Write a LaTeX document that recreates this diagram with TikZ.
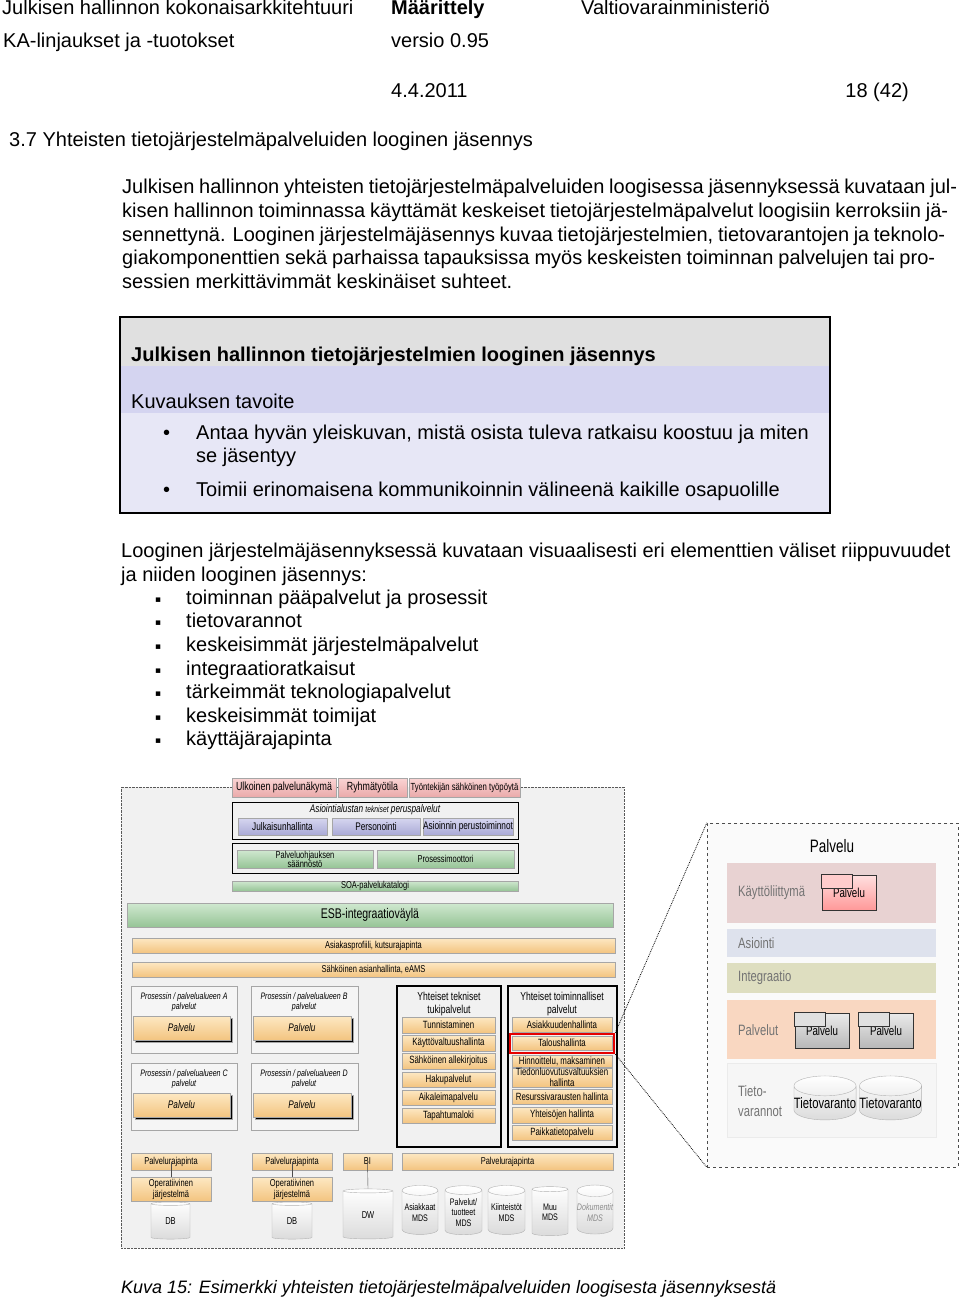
\documentclass[tikz,border=0pt]{standalone}
\usepackage{fontspec}
\setmainfont{Liberation Sans}
\newfontfamily\dgfont[FakeStretch=0.75]{Liberation Sans}
\newfontfamily\symfont{DejaVu Sans}
\usetikzlibrary{shapes.geometric, shadows, positioning, calc}

\definecolor{hdrgray}{RGB}{224,224,224}
\definecolor{hdrlav}{RGB}{212,212,240}
\definecolor{bodylav}{RGB}{231,231,246}
\definecolor{diaggray}{RGB}{241,241,241}
\definecolor{tabtop}{RGB}{250,212,212}
\definecolor{tabbot}{RGB}{234,170,170}
\definecolor{lavtop}{RGB}{214,214,240}
\definecolor{lavbot}{RGB}{170,170,214}
\definecolor{greentop}{RGB}{208,232,208}
\definecolor{greenbot}{RGB}{150,196,150}
\definecolor{peachtop}{RGB}{253,232,195}
\definecolor{peachbot}{RGB}{243,196,128}
\definecolor{layerui}{RGB}{232,210,210}
\definecolor{layeras}{RGB}{222,226,237}
\definecolor{layerint}{RGB}{222,222,192}
\definecolor{layerpalv}{RGB}{249,215,193}
\definecolor{layertieto}{RGB}{246,246,246}

\newcommand{\bodyfont}{\fontsize{20}{23.5}\selectfont}
\newcommand{\dgsize}[1]{\dgfont\fontsize{#1}{#1}\selectfont}

\begin{document}
\begin{tikzpicture}[x=1pt, y=-1pt,
  bodytxt/.style={anchor=base west, inner sep=0pt, font=\bodyfont},
  corners/.style n args={4}{at={({(#1+#3)/2},{(#2+#4)/2})}, minimum width={(#3-#1)*1pt}, minimum height={(#4-#2)*1pt}, inner sep=0pt},
  shade3d/.style={drop shadow={shadow xshift=1.4pt, shadow yshift=-1.4pt, fill=black!60, opacity=0.85}},
  tabbox/.style={shade3d, draw=black!35, top color=tabtop, bottom color=tabbot, font=\dgsize{11.8}},
  lavbox/.style={shade3d, draw=black!35, top color=lavtop, bottom color=lavbot, font=\dgsize{11}},
  greenbox/.style={shade3d, draw=black!35, top color=greentop, bottom color=greenbot, font=\dgsize{10}, align=center},
  peachbox/.style={shade3d, draw=black!35, top color=peachtop, bottom color=peachbot, font=\dgsize{10.5}, align=center},
  palvbtn/.style={peachbox, copy shadow={shadow xshift=2.5pt, shadow yshift=-2.5pt}, font=\dgfont\itshape\fontsize{11}{11}\selectfont},
  groupbox/.style={draw=black, line width=1.3pt},
  procbox/.style={draw=black!35, line width=0.9pt, fill=black!4},
  dbcyl/.style={cylinder, shape border rotate=90, aspect=0.32, draw=black!30, top color=white, bottom color=black!14, inner sep=0pt, font=\dgsize{10}, align=center},
  layer/.style={inner sep=0pt},
  layertxt/.style={anchor=west, inner sep=0pt, text=black!55, font=\dgsize{15}, align=left},
  iconbox/.style={draw=black!80, line width=0.9pt, top color=black!8, bottom color=black!28, font=\dgsize{13}}]

\useasboundingbox (0,0) rectangle (960,1297);

\node[bodytxt] (hdrA) at (2,15) {Julkisen hallinnon kokonaisarkkitehtuuri};
\node[bodytxt, font=\bodyfont\bfseries] (hdrB) at (391,15) {Määrittely};
\node[bodytxt] (hdrC) at (581,15) {Valtiovarainministeriö};
\node[bodytxt] (hdrD) at (3,48) {KA-linjaukset ja -tuotokset};
\node[bodytxt] (hdrE) at (391,48) {versio 0.95};
\node[bodytxt] (hdrF) at (391,98) {4.4.2011};
\node[bodytxt, anchor=base east] (hdrG) at (909,98) {18 (42)};
\node[bodytxt] (sect) at (9,147) {3.7 Yhteisten tietojärjestelmäpalveluiden looginen jäsennys};

\node[bodytxt] (par1) at (122,194) {\makebox[835pt][s]{Julkisen hallinnon yhteisten tietojärjestelmäpalveluiden loogisessa jäsennyksessä kuvataan jul-}};
\node[bodytxt] (par2) at (122,217.5) {\makebox[826pt][s]{kisen hallinnon toiminnassa käyttämät keskeiset tietojärjestelmäpalvelut loogisiin kerroksiin jä-}};
\node[bodytxt] (par3) at (122,241) {\makebox[823pt][s]{sennettynä. Looginen järjestelmäjäsennys kuvaa tietojärjestelmien, tietovarantojen ja teknolo-}};
\node[bodytxt] (par4) at (122,264.5) {\makebox[813pt][s]{giakomponenttien sekä parhaissa tapauksissa myös keskeisten toiminnan palvelujen tai pro-}};
\node[bodytxt] (par5) at (122,288) {sessien merkittävimmät keskinäiset suhteet.};

\node[corners={121}{318}{829}{366}, fill=hdrgray] (goalhdr) {};
\node[corners={121}{366}{829}{413}, fill=hdrlav] (goalsub) {};
\node[corners={121}{413}{829}{512}, fill=bodylav] (goalbody) {};
\node[corners={120}{317}{830}{513}, draw, line width=2.5pt] (goalbox) {};
\node[bodytxt, font=\bodyfont\bfseries] (goaltitle) at (131,361) {Julkisen hallinnon tietojärjestelmien looginen jäsennys};
\node[bodytxt] (goalsubtxt) at (131,408) {Kuvauksen tavoite};
\node[bodytxt] (dotA) at (163,439) {•};
\node[bodytxt] (goalA) at (196,439) {Antaa hyvän yleiskuvan, mistä osista tuleva ratkaisu koostuu ja miten};
\node[bodytxt] (goalA2) at (196,462) {se jäsentyy};
\node[bodytxt] (dotB) at (163,496) {•};
\node[bodytxt] (goalB) at (196,496) {Toimii erinomaisena kommunikoinnin välineenä kaikille osapuolille};

\node[bodytxt] (intro1) at (121,557) {Looginen järjestelmäjäsennyksessä kuvataan visuaalisesti eri elementtien väliset riippuvuudet};
\node[bodytxt] (intro2) at (121,581) {ja niiden looginen jäsennys:};
\node[bodytxt, font=\symfont\fontsize{9}{9}\selectfont] (sq1) at (155,602) {▪};
\node[bodytxt] (item1) at (186,604) {toiminnan pääpalvelut ja prosessit};
\node[bodytxt, font=\symfont\fontsize{9}{9}\selectfont] (sq2) at (155,625) {▪};
\node[bodytxt] (item2) at (186,627) {tietovarannot};
\node[bodytxt, font=\symfont\fontsize{9}{9}\selectfont] (sq3) at (155,649) {▪};
\node[bodytxt] (item3) at (186,651) {keskeisimmät järjestelmäpalvelut};
\node[bodytxt, font=\symfont\fontsize{9}{9}\selectfont] (sq4) at (155,673) {▪};
\node[bodytxt] (item4) at (186,675) {integraatioratkaisut};
\node[bodytxt, font=\symfont\fontsize{9}{9}\selectfont] (sq5) at (155,696) {▪};
\node[bodytxt] (item5) at (186,698) {tärkeimmät teknologiapalvelut};
\node[bodytxt, font=\symfont\fontsize{9}{9}\selectfont] (sq6) at (155,720) {▪};
\node[bodytxt] (item6) at (186,722) {keskeisimmät toimijat};
\node[bodytxt, font=\symfont\fontsize{9}{9}\selectfont] (sq7) at (155,743) {▪};
\node[bodytxt] (item7) at (186,745) {käyttäjärajapinta};

\node[corners={121}{787}{624}{1248}, draw=black!65, densely dotted, fill=diaggray] (diag) {};

\node[tabbox, corners={232}{778}{336}{797}] (extview) {Ulkoinen palvelunäkymä};
\node[tabbox, corners={338}{778}{407}{797}] (groupws) {Ryhmätyötila};
\node[tabbox, corners={409}{778}{520}{797}, font=\dgsize{10.3}] (desktop) {Työntekijän sähköinen työpöytä};

\node[groupbox, line width=1pt, corners={232}{802}{518}{839}] (asplat) {};
\node[font=\dgfont\itshape\fontsize{11}{11}\selectfont, inner sep=0pt] (asplattitle) at (375,810) {Asiointialustan {\fontsize{9}{9}\selectfont tekniset} peruspalvelut};
\node[lavbox, corners={238}{818}{327}{835}] (publish) {Julkaisunhallinta};
\node[lavbox, corners={332}{818}{420}{835}] (personal) {Personointi};
\node[lavbox, corners={423}{818}{513}{835}] (basicops) {Asioinnin perustoiminnot};

\node[groupbox, line width=1pt, corners={232}{843}{518}{873}] (control) {};
\node[greenbox, corners={237}{850}{373}{868}, font=\dgfont\fontsize{10}{9}\selectfont] (rules) {Palveluohjauksen\\säännöstö};
\node[greenbox, corners={377}{850}{514}{868}] (engine) {Prosessimoottori};
\node[greenbox, corners={232}{881}{518}{891}] (catalog) {SOA-palvelukatalogi};

\node[greenbox, corners={127}{903}{613}{927}, font=\dgsize{14}] (esb) {ESB-integraatioväylä};
\node[peachbox, corners={132}{938}{615}{953}, font=\dgsize{10}] (profile) {Asiakasprofiili, kutsurajapinta};
\node[peachbox, corners={132}{962}{615}{977}, font=\dgsize{10}] (eams) {Sähköinen asianhallinta, eAMS};

\node[procbox, corners={131}{986}{237}{1053}] (procA) {};
\node[procbox, corners={251}{986}{358}{1053}] (procB) {};
\node[procbox, corners={131}{1063}{237}{1130}] (procC) {};
\node[procbox, corners={251}{1063}{358}{1130}] (procD) {};
\node[anchor=north, inner sep=0pt, align=center, font=\dgfont\itshape\fontsize{9.4}{10.5}\selectfont] (procAtitle) at (184,992) {Prosessin / palvelualueen A\\palvelut};
\node[anchor=north, inner sep=0pt, align=center, font=\dgfont\itshape\fontsize{9.4}{10.5}\selectfont] (procBtitle) at (304,992) {Prosessin / palvelualueen B\\palvelut};
\node[anchor=north, inner sep=0pt, align=center, font=\dgfont\itshape\fontsize{9.4}{10.5}\selectfont] (procCtitle) at (184,1069) {Prosessin / palvelualueen C\\palvelut};
\node[anchor=north, inner sep=0pt, align=center, font=\dgfont\itshape\fontsize{9.4}{10.5}\selectfont] (procDtitle) at (304,1069) {Prosessin / palvelualueen D\\palvelut};
\node[palvbtn, corners={133}{1016}{230}{1040}] (palvA) {Palvelu};
\node[palvbtn, corners={253}{1016}{351}{1040}] (palvB) {Palvelu};
\node[palvbtn, corners={133}{1093}{230}{1117}] (palvC) {Palvelu};
\node[palvbtn, corners={253}{1093}{351}{1117}] (palvD) {Palvelu};

\node[groupbox, corners={397}{986}{501}{1147}] (techsup) {};
\node[anchor=north, inner sep=0pt, align=center, font=\dgfont\fontsize{11.5}{13}\selectfont] (techtitle) at (449,992) {Yhteiset tekniset\\tukipalvelut};
\node[peachbox, corners={402}{1017}{495}{1033}] (auth) {Tunnistaminen};
\node[peachbox, corners={402}{1035}{495}{1051}] (access) {Käyttövaltuushallinta};
\node[peachbox, corners={402}{1053}{495}{1069}] (esign) {Sähköinen allekirjoitus};
\node[peachbox, corners={402}{1072}{495}{1087}] (search) {Hakupalvelut};
\node[peachbox, corners={402}{1090}{495}{1105}] (tstamp) {Aikaleimapalvelu};
\node[peachbox, corners={402}{1108}{495}{1123}] (eventlog) {Tapahtumaloki};

\node[groupbox, corners={508}{986}{617}{1147}] (funcsup) {};
\node[anchor=north, inner sep=0pt, align=center, font=\dgfont\fontsize{11.5}{13}\selectfont] (functitle) at (562,992) {Yhteiset toiminnalliset\\palvelut};
\node[peachbox, corners={512}{1017}{612}{1032}] (crm) {Asiakkuudenhallinta};
\node[peachbox, corners={512}{1036}{612}{1050}] (finance) {Taloushallinta};
\node[peachbox, corners={512}{1055}{612}{1067}] (pricing) {Hinnoittelu, maksaminen};
\node[peachbox, corners={512}{1068}{612}{1087}, font=\dgfont\fontsize{10.5}{11}\selectfont] (disclose) {Tiedonluovutusvaltuuksien\\hallinta};
\node[peachbox, corners={512}{1089}{612}{1104}] (booking) {Resurssivarausten hallinta};
\node[peachbox, corners={512}{1107}{612}{1123}] (community) {Yhteisöjen hallinta};
\node[peachbox, corners={512}{1125}{612}{1140}] (geo) {Paikkatietopalvelu};
\node[draw=red!90!black, line width=2.6pt, corners={510}{1034}{614}{1053}] (hilite) {};

\node[peachbox, corners={131}{1153}{211}{1170}, font=\dgsize{10}] (apiA) {Palvelurajapinta};
\node[peachbox, corners={131}{1177}{211}{1201}, font=\dgfont\fontsize{10}{11}\selectfont] (opA) {Operatiivinen\\järjestelmä};
\node[peachbox, corners={252}{1153}{332}{1170}, font=\dgsize{10}] (apiB) {Palvelurajapinta};
\node[peachbox, corners={252}{1177}{332}{1201}, font=\dgfont\fontsize{10}{11}\selectfont] (opB) {Operatiivinen\\järjestelmä};
\node[peachbox, corners={343}{1153}{392}{1170}, font=\dgsize{10}] (bi) {BI};
\node[peachbox, corners={402}{1153}{613}{1170}, font=\dgsize{10}] (apiC) {Palvelurajapinta};
\node[dbcyl, minimum width=39pt, minimum height=37pt] (dbA) at (170.5,1221.5) {DB};
\node[dbcyl, minimum width=40pt, minimum height=37pt] (dbB) at (292,1221.5) {DB};
\node[dbcyl, minimum width=50pt, minimum height=50pt] (dw) at (368,1215) {DW};
\node[dbcyl, minimum width=36pt, minimum height=49pt, font=\dgfont\fontsize{9.5}{10.5}\selectfont] (mdsA) at (420,1212.5) {Asiakkaat\\MDS};
\node[dbcyl, minimum width=37pt, minimum height=49pt, font=\dgfont\fontsize{9.5}{10.5}\selectfont] (mdsB) at (463.5,1212.5) {Palvelut/\\tuotteet\\MDS};
\node[dbcyl, minimum width=37pt, minimum height=49pt, font=\dgfont\fontsize{9.5}{10.5}\selectfont] (mdsC) at (506.5,1212.5) {Kiinteistöt\\MDS};
\node[dbcyl, minimum width=36pt, minimum height=49pt, font=\dgfont\fontsize{9.5}{10.5}\selectfont] (mdsD) at (550,1212.5) {Muu\\MDS};
\node[dbcyl, minimum width=36pt, minimum height=49pt, text=black!45, font=\dgfont\itshape\fontsize{9.5}{10.5}\selectfont] (mdsE) at (595,1212.5) {Dokumentit\\MDS};
\draw[black!70] (apiA.center) -- (opA.north);
\draw[black!70] (apiB.center) -- (opB.north);
\draw[black!70] (bi.center) -- (dw.north);

\node[corners={707}{823}{958}{1167}, draw=black!70, dashed, fill=black!2] (detail) {};
\node[font=\dgsize{18}, inner sep=0pt] (detailtitle) at (832,846) {Palvelu};
\node[layer, corners={727}{863}{936}{923}, fill=layerui] (lui) {};
\node[layer, corners={727}{929}{936}{957}, fill=layeras] (las) {};
\node[layer, corners={727}{963}{936}{993}, fill=layerint] (lint) {};
\node[layer, corners={727}{1000}{936}{1059}, fill=layerpalv] (lpalv) {};
\node[layer, corners={727}{1063}{936}{1137}, fill=layertieto, draw=black!8] (ltieto) {};
\node[layertxt] (luitxt) at (738,893) {Käyttöliittymä};
\node[layertxt] (lastxt) at (738,943) {Asiointi};
\node[layertxt] (linttxt) at (738,978) {Integraatio};
\node[layertxt] (lpalvtxt) at (738,1030) {Palvelut};
\node[layertxt, font=\dgfont\fontsize{15}{20}\selectfont] (ltietotxt) at (738,1101) {Tieto-\\varannot};
\node[iconbox, top color=red!12, bottom color=red!40, corners={822}{875}{876}{910}] (uipalv) {\raisebox{-5pt}{Palvelu}};
\draw[draw=black!80, line width=0.9pt, fill=red!20] (uipalv.north west) rectangle ++(31,14);
\node[iconbox, corners={795}{1013}{849}{1048}] (palvX) {\raisebox{-5pt}{Palvelu}};
\draw[draw=black!80, line width=0.9pt, fill=black!12] (palvX.north west) rectangle ++(31,14);
\node[iconbox, corners={859}{1013}{913}{1048}] (palvY) {\raisebox{-5pt}{Palvelu}};
\draw[draw=black!80, line width=0.9pt, fill=black!12] (palvY.north west) rectangle ++(31,14);
\node[dbcyl, minimum width=56pt, minimum height=44pt, font=\dgsize{15}] (storeX) at (825,1103) {Tietovaranto};
\node[dbcyl, minimum width=55pt, minimum height=44pt, font=\dgsize{15}] (storeY) at (890.5,1103) {Tietovaranto};

\draw[densely dotted, thick] (hilite.north east) -- (detail.north west);
\draw[densely dotted, thick] (hilite.south east) -- (detail.south west);

\node[bodytxt, font=\fontsize{18}{22}\selectfont\itshape] (caption) at (121,1293) {Kuva 15: Esimerkki yhteisten tietojärjestelmäpalveluiden loogisesta jäsennyksestä};
\end{tikzpicture}
\end{document}
